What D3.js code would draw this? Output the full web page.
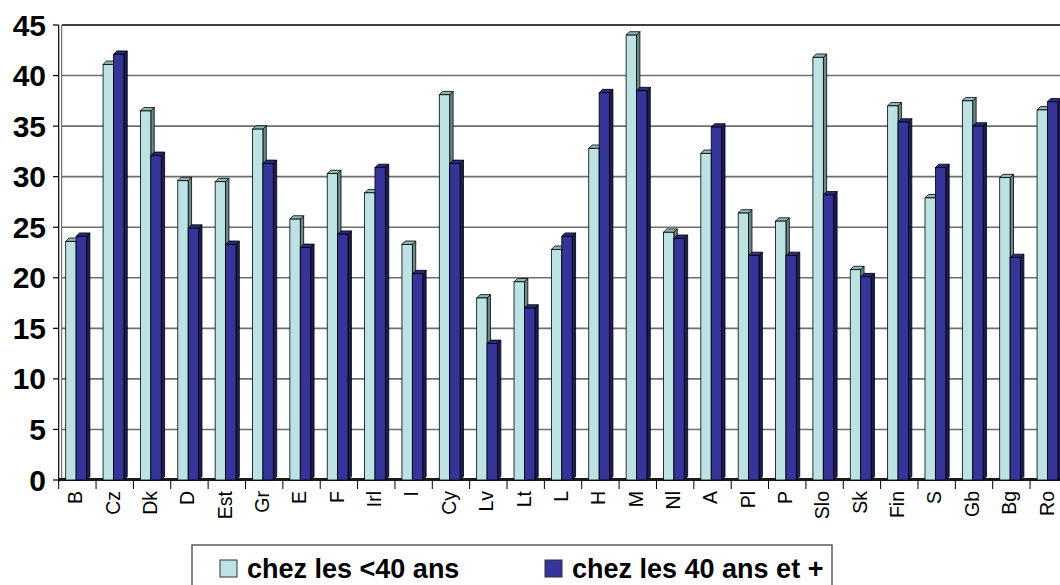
<!DOCTYPE html>
<html>
<head>
<meta charset="utf-8">
<script src="https://cdn.jsdelivr.net/npm/d3@7"></script>
<style>
  html, body { margin: 0; padding: 0; background: #fff; overflow: hidden; }
  svg { display: block; font-family: Arial, "Liberation Sans", sans-serif; }
</style>
</head>
<body>
<svg id="chart" width="1060" height="585"></svg>
<script>
// Country codes along the x axis
const categories = ["B","Cz","Dk","D","Est","Gr","E","F","Irl","I","Cy","Lv","Lt","L","H","M","Nl","A","Pl","P","Slo","Sk","Fin","S","Gb","Bg","Ro"];
// Values for the under-40 group
const youngValues = [23.6,41.1,36.5,29.6,29.5,34.7,25.8,30.3,28.4,23.3,38.1,18.0,19.6,22.8,32.8,44.0,24.5,32.3,26.4,25.6,41.8,20.8,37.0,27.9,37.5,29.9,36.6];
// Values for the 40-and-over group
const olderValues = [24.1,42.1,32.1,24.9,23.3,31.3,23.0,24.3,30.9,20.4,31.3,13.5,17.0,24.1,38.3,38.5,23.9,34.9,22.2,22.2,28.2,20.1,35.4,30.9,35.0,22.0,37.4];
// Value axis ticks
const yTicks = [0,5,10,15,20,25,30,35,40,45];
const seriesNames = ["chez les <40 ans", "chez les 40 ans et +"];

const svg = d3.select("#chart");

const plotLeft = 58.7, step = 37.36;
const x = d3.scaleBand()
  .domain(categories)
  .range([plotLeft, plotLeft + step * categories.length])
  .paddingInner(0).paddingOuter(0);
const y = d3.scaleLinear().domain([0, 45]).range([480, 25]);

const colors = {
  young: { front: "#bde2e3", side: "#6a8b8b", top: "#93b5b5" },
  older: { front: "#343499", side: "#1c1c58", top: "#2a2a7c" }
};
const depth = 3.4;

// Horizontal gridlines on the back wall
svg.append("g").selectAll("line").data(yTicks.filter(d => d > 0)).join("line")
  .attr("x1", 62).attr("x2", 1060)
  .attr("y1", d => y(d)).attr("y2", d => y(d))
  .attr("stroke", d => d === 45 ? "#000" : "#6e6e6e")
  .attr("stroke-width", 1.6);

// Left wall edges
svg.append("line").attr("x1", 58.7).attr("x2", 58.7).attr("y1", y(45)).attr("y2", y(0) + 2)
  .attr("stroke", "#000").attr("stroke-width", 1.2);
svg.append("line").attr("x1", 61.7).attr("x2", 61.7).attr("y1", y(45)).attr("y2", y(0))
  .attr("stroke", "#555").attr("stroke-width", 1);

// Floor
svg.append("rect").attr("x", 58.7).attr("y", y(0) - 2).attr("width", 1010).attr("height", 3)
  .attr("fill", "#1a1a1a");

// Y axis ticks and labels
const yAxis = svg.append("g");
yAxis.selectAll("line").data(yTicks).join("line")
  .attr("x1", 53).attr("x2", 58.7)
  .attr("y1", d => y(d)).attr("y2", d => y(d))
  .attr("stroke", "#000").attr("stroke-width", 1.2);
yAxis.selectAll("text").data(yTicks).join("text")
  .attr("x", 46).attr("y", d => y(d)).attr("dy", "0.35em")
  .attr("text-anchor", "end")
  .attr("font-size", 30).attr("font-weight", "bold").attr("fill", "#000")
  .text(d => d);

// X axis ticks at category boundaries
svg.append("g").selectAll("line").data(categories).join("line")
  .attr("x1", d => x(d)).attr("x2", d => x(d))
  .attr("y1", y(0)).attr("y2", y(0) + 9)
  .attr("stroke", "#000").attr("stroke-width", 1);

// 3D bar: front face, right side and top cap
function drawBar(g, x0, w, v, c) {
  const top = y(v), base = y(0);
  g.append("path")
    .attr("d", `M${x0 + w},${top} L${x0 + w + depth},${top - depth} L${x0 + w + depth},${base - depth} L${x0 + w},${base} Z`)
    .attr("fill", c.side).attr("stroke", "#000").attr("stroke-width", 0.8);
  g.append("path")
    .attr("d", `M${x0},${top} L${x0 + depth},${top - depth} L${x0 + w + depth},${top - depth} L${x0 + w},${top} Z`)
    .attr("fill", c.top).attr("stroke", "#000").attr("stroke-width", 0.8);
  g.append("rect")
    .attr("x", x0).attr("y", top).attr("width", w).attr("height", base - top)
    .attr("fill", c.front).attr("stroke", "#000").attr("stroke-width", 0.8);
}

const bars = svg.append("g");
const barW = 10.4, barOffset = 7;
categories.forEach((cat, i) => {
  const x0 = x(cat) + barOffset;
  drawBar(bars, x0, barW, youngValues[i], colors.young);
  drawBar(bars, x0 + barW, barW, olderValues[i], colors.older);
});

// Category labels, rotated
svg.append("g").selectAll("text").data(categories).join("text")
  .attr("transform", d => `translate(${x(d) + x.bandwidth() / 2 - 2},491) rotate(-90)`)
  .attr("dy", "0.35em")
  .attr("text-anchor", "end")
  .attr("font-size", 19.5).attr("fill", "#000")
  .text(d => d);

// Legend
const legend = svg.append("g");
legend.append("rect").attr("x", 192).attr("y", 545).attr("width", 640).attr("height", 60)
  .attr("fill", "#fff").attr("stroke", "#666").attr("stroke-width", 1.6);
const legendItems = [
  { name: seriesNames[0], color: colors.young.front, sx: 220, tx: 247 },
  { name: seriesNames[1], color: colors.older.front, sx: 545, tx: 572 }
];
legendItems.forEach(it => {
  legend.append("rect").attr("x", it.sx).attr("y", 560).attr("width", 17).attr("height", 17)
    .attr("fill", it.color).attr("stroke", "#333").attr("stroke-width", 1);
  legend.append("text").attr("x", it.tx).attr("y", 578)
    .attr("font-size", 27).attr("font-weight", "bold").attr("fill", "#000")
    .text(it.name);
});
</script>
</body>
</html>
